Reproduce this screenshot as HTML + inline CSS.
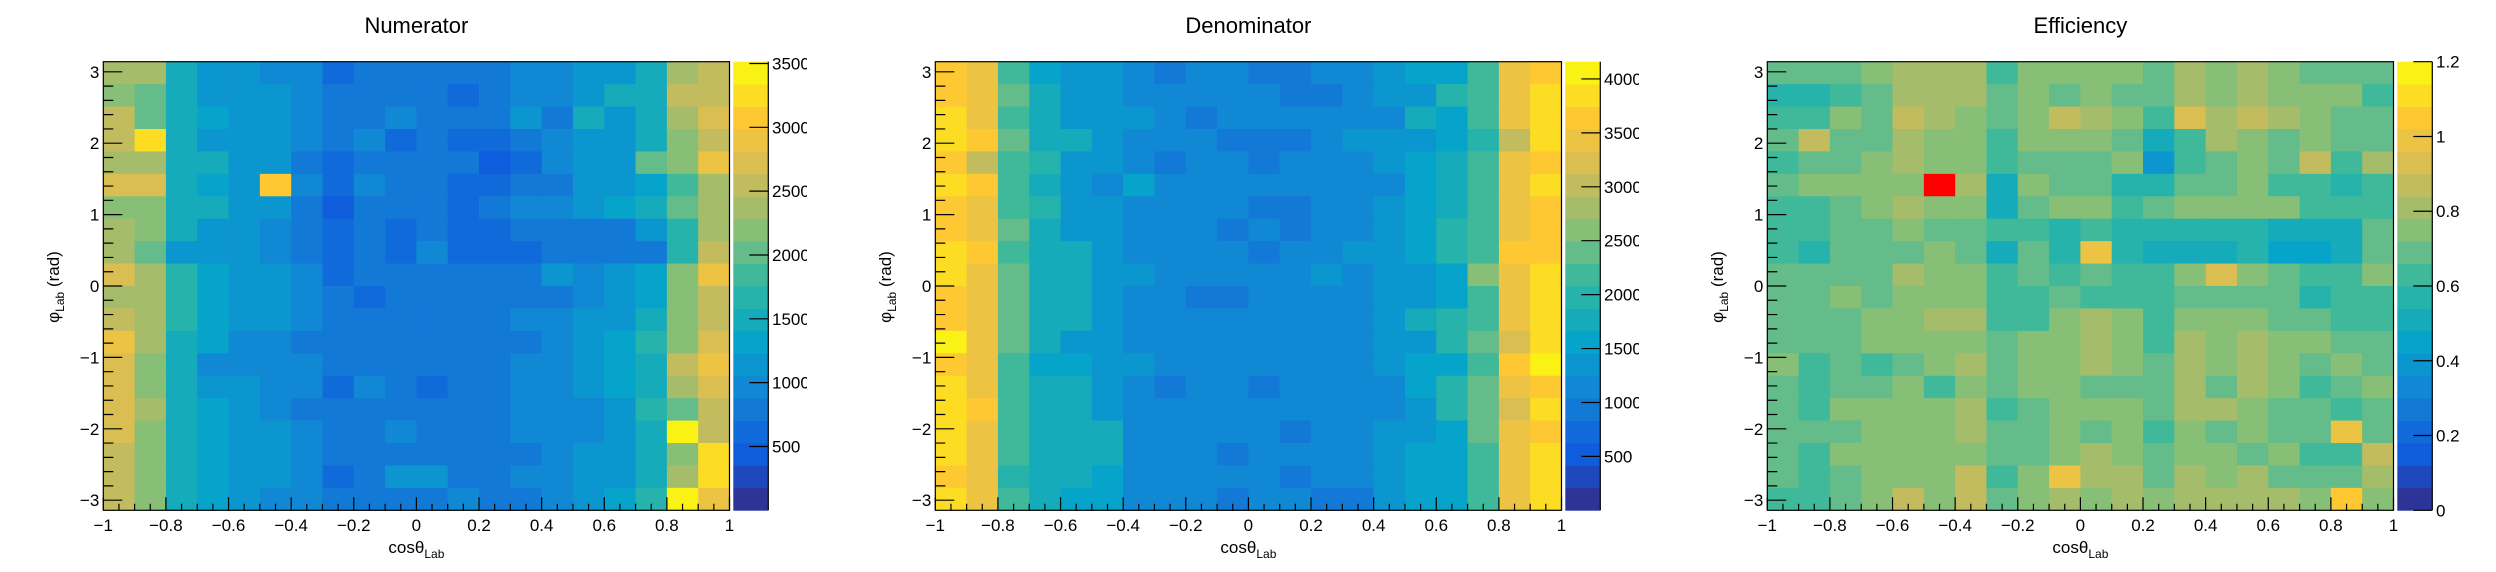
<!DOCTYPE html>
<html><head><meta charset="utf-8">
<style>
html,body{margin:0;padding:0;background:#fff;}
svg{display:block;}
text{font-family:"Liberation Sans",Arial,sans-serif;fill:#000;}
</style></head>
<body>
<svg id="chart" width="2496" height="572" viewBox="0 0 2496 572" xmlns="http://www.w3.org/2000/svg"></svg>
<script>
const xEdgesMin = -1, xEdgesMax = 1;
const xTickLabels = ["\u22121","\u22120.8","\u22120.6","\u22120.4","\u22120.2","0","0.2","0.4","0.6","0.8","1"];
const yTickValues = [-3,-2,-1,0,1,2,3];
const yTickLabels = ["\u22123","\u22122","\u22121","0","1","2","3"];
const panelTitles = ["Numerator","Denominator","Efficiency"];
const zMaxes = [3514, 4160, 1.2];
const numTicks = [500,1000,1500,2000,2500,3000,3500];
const numTickLabels = ["500","1000","1500","2000","2500","3000","3500"];
const denTicks = [500,1000,1500,2000,2500,3000,3500,4000];
const denTickLabels = ["500","1000","1500","2000","2500","3000","3500","4000"];
const effTicks = [0,0.2,0.4,0.6,0.8,1,1.2];
const effTickLabels = ["0","0.2","0.4","0.6","0.8","1","1.2"];

// rows from top (phi ~ +pi) to bottom (phi ~ -pi), 20 columns cos -1..1
const numerator = [
[2380,2380,1500,1140,1140,970,970,620,790,790,790,790,790,970,970,1140,1140,1500,2380,2550],
[2200,2020,1500,1140,1140,1140,970,790,790,790,790,620,790,970,970,1140,1500,1500,2550,2550],
[2550,2020,1500,1320,1140,1140,970,790,790,970,790,790,790,1140,790,1500,1140,1500,2380,2730],
[2550,3260,1500,1140,1140,1140,970,790,970,620,790,620,620,790,970,1140,1140,1500,2200,2550],
[2380,2380,1500,1500,1140,1140,790,620,790,790,790,790,440,620,970,1140,1140,2020,2200,2900],
[2730,2730,1500,1320,1140,3080,970,620,970,790,790,620,620,790,790,1140,1140,1320,1850,2380],
[2200,2200,1500,1500,1140,1140,790,440,790,790,790,620,790,970,970,1140,1320,1500,2020,2380],
[2380,2200,1500,1140,1140,970,790,620,790,620,790,620,620,790,790,790,790,1140,1670,2380],
[2380,2020,1140,1140,1140,970,790,620,790,620,970,620,620,620,790,790,790,790,1670,2550],
[2730,2380,1670,1320,1140,1140,970,620,790,790,790,790,790,790,1140,970,1140,1320,2200,2900],
[2380,2380,1670,1320,1140,1140,970,790,620,790,790,790,790,790,790,970,1140,1320,2200,2550],
[2550,2380,1670,1320,1140,1140,970,790,790,790,790,790,790,970,970,1140,1140,1500,2200,2550],
[2900,2380,1500,1320,970,970,790,790,790,790,790,790,790,790,970,1140,1320,1670,2200,2730],
[2730,2200,1500,970,970,970,970,790,790,790,790,790,790,970,970,1140,1320,1500,2550,2900],
[2730,2200,1500,1140,1140,970,970,620,970,790,620,790,790,970,970,1140,1320,1500,2380,2730],
[2730,2380,1500,1320,1140,970,790,790,790,790,790,790,790,970,970,970,1140,1670,2020,2550],
[2730,2200,1500,1320,1140,1140,970,790,790,970,790,790,790,970,970,970,1140,1500,3430,2550],
[2550,2200,1500,1320,1140,1140,970,790,790,790,790,790,790,790,970,1140,1140,1500,2200,3260],
[2550,2200,1500,1320,1140,1140,970,620,790,1140,1140,790,790,970,970,1140,1140,1500,2380,3260],
[2550,2200,1500,1320,1140,970,970,790,790,790,790,970,790,790,970,1140,1320,1670,3430,2900]
];
const denominator = [
[3640,3430,2180,1560,1350,1350,1140,940,1140,1140,940,940,1140,1140,1350,1560,1560,2180,3430,3640],
[3640,3430,2390,1770,1350,1350,1140,1140,1140,1140,1140,940,940,1140,1350,1350,1980,2180,3430,3850],
[3850,3430,2180,1770,1350,1350,1350,1140,940,1140,1140,1140,1140,1140,1140,1770,1560,2180,3430,3850],
[3850,3640,2390,1770,1770,1350,1140,1140,1140,940,940,940,1140,1350,1350,1350,1560,1980,3020,3850],
[3640,3020,2180,1980,1350,1350,1140,940,1140,1140,940,1140,1140,1140,1350,1560,1770,2180,3430,3640],
[3850,3640,2180,1770,1350,1140,1560,1140,1140,1140,1140,1140,1140,1140,1140,1560,1770,2180,3430,3850],
[3640,3430,2180,1980,1350,1350,1140,1140,1140,1140,940,940,1140,1140,1350,1560,1770,2180,3430,3640],
[3640,3430,2390,1770,1350,1350,1140,1140,1140,940,1140,940,1140,1140,1350,1560,1980,2180,3430,3640],
[3850,3640,2180,1770,1770,1350,1140,1140,1140,1140,940,1140,1140,1350,1350,1560,1980,2180,3640,3640],
[3850,3430,2390,1770,1770,1350,1350,1140,1140,1140,1140,1140,1350,1140,1350,1350,1560,2600,3430,3850],
[3640,3430,2390,1770,1770,1350,1140,1140,940,940,1140,1140,1140,1140,1350,1350,1560,2180,3430,3850],
[3640,3430,2390,1770,1770,1350,1140,1140,1140,1140,1140,1140,1140,1140,1350,1770,1980,2180,3430,3850],
[4060,3430,2390,1770,1350,1350,1140,1140,1140,1140,1140,1140,1140,1140,1350,1350,1980,2390,3220,3850],
[3640,3430,2180,1560,1560,1350,1350,1140,1140,1140,1140,1140,1140,1140,1350,1560,1560,2180,3640,4060],
[3850,3430,2180,1770,1770,1350,1140,940,1140,1140,940,1140,1140,1140,1140,1560,1980,2390,3430,3640],
[3850,3640,2180,1770,1770,1350,1140,1140,1140,1140,1140,1140,1140,1140,1140,1350,1980,2390,3220,3850],
[3850,3430,2180,1770,1770,1770,1140,1140,1140,1140,1140,940,1140,1140,1350,1350,1560,2390,3430,3640],
[3850,3430,2180,1770,1770,1770,1140,1140,1140,940,1140,1140,1140,1140,1350,1560,1560,2180,3430,3850],
[3640,3430,1980,1770,1770,1560,1140,1140,1140,1140,1140,940,1140,1140,1350,1560,1560,2180,3430,3850],
[3850,3430,2180,1770,1560,1560,1140,1140,1140,940,1140,1140,940,940,1350,1560,1560,2180,3430,3850]
];
const efficiency = [
[.69,.69,.69,.75,.81,.81,.81,.63,.75,.75,.75,.75,.69,.81,.75,.81,.75,.69,.69,.69],
[.57,.57,.63,.69,.81,.81,.81,.69,.75,.69,.75,.69,.69,.81,.75,.81,.75,.75,.75,.63],
[.63,.63,.75,.69,.87,.81,.75,.69,.75,.87,.81,.75,.63,.93,.81,.87,.81,.75,.69,.69],
[.69,.87,.69,.69,.81,.75,.75,.63,.75,.75,.75,.69,.51,.63,.81,.75,.69,.75,.69,.69],
[.63,.69,.69,.75,.81,.75,.75,.63,.69,.69,.69,.75,.39,.63,.69,.75,.69,.87,.63,.81],
[.69,.75,.75,.75,.75,1.3,.81,.51,.75,.69,.69,.57,.57,.69,.69,.75,.63,.63,.57,.63],
[.63,.63,.69,.75,.81,.75,.75,.51,.69,.75,.75,.63,.69,.75,.75,.75,.75,.63,.63,.63],
[.63,.63,.69,.69,.75,.69,.69,.63,.63,.57,.63,.57,.57,.57,.57,.57,.51,.51,.51,.69],
[.63,.57,.69,.69,.69,.75,.69,.51,.69,.57,.99,.57,.51,.51,.51,.57,.45,.45,.51,.69],
[.69,.69,.69,.69,.81,.75,.75,.63,.69,.63,.69,.63,.63,.75,.93,.75,.69,.63,.63,.75],
[.69,.69,.75,.69,.75,.75,.75,.63,.63,.69,.63,.63,.63,.69,.69,.69,.69,.57,.63,.63],
[.69,.69,.69,.75,.75,.81,.81,.63,.63,.75,.81,.75,.63,.75,.75,.75,.69,.69,.63,.63],
[.69,.69,.69,.75,.75,.75,.75,.69,.75,.75,.81,.75,.63,.81,.75,.81,.75,.75,.69,.69],
[.75,.63,.69,.63,.69,.75,.81,.69,.75,.75,.81,.75,.69,.81,.75,.81,.75,.69,.75,.69],
[.69,.63,.69,.69,.75,.63,.75,.69,.75,.75,.69,.69,.69,.81,.69,.81,.75,.63,.69,.75],
[.69,.63,.75,.75,.75,.75,.81,.63,.69,.75,.75,.75,.69,.81,.81,.75,.69,.69,.63,.69],
[.69,.69,.69,.75,.75,.75,.81,.69,.69,.75,.69,.75,.63,.75,.69,.75,.69,.69,.99,.69],
[.69,.63,.75,.75,.75,.75,.75,.69,.69,.75,.81,.75,.69,.75,.75,.69,.75,.63,.63,.87],
[.69,.63,.69,.75,.75,.75,.87,.63,.75,.99,.81,.81,.69,.81,.75,.81,.69,.69,.69,.81],
[.63,.63,.69,.75,.87,.75,.87,.69,.75,.81,.75,.81,.75,.81,.81,.81,.81,.75,1.05,.75]
];

const NS = "http://www.w3.org/2000/svg";
const svg = document.getElementById("chart");
const birdR=[0.2082,0.0592,0.0780,0.0232,0.1802,0.5301,0.8186,0.9956,0.9764];
const birdG=[0.1664,0.3599,0.5041,0.6419,0.7178,0.7492,0.7328,0.7862,0.9832];
const birdB=[0.5293,0.8684,0.8385,0.7914,0.6425,0.4662,0.3499,0.1968,0.0539];
function bird(t){
  const p=Math.max(0,Math.min(1,t))*8; const i=Math.min(7,Math.floor(p)); const f=p-i;
  const c=a=>Math.round((a[i]+(a[i+1]-a[i])*f)*255);
  return `rgb(${c(birdR)},${c(birdG)},${c(birdB)})`;
}
function bandColor(l){return bird((l+0.5)/20);}
function levelColor(v,zmax){
  if(v>zmax) return "#ff0000";
  let l=Math.floor(v/zmax*20); l=Math.max(0,Math.min(19,l));
  return bandColor(l);
}
function mk(tag,attrs,parent){const e=document.createElementNS(NS,tag);for(const k in attrs)e.setAttribute(k,attrs[k]);(parent||svg).appendChild(e);return e;}

const FX0=103.3, FX1=729.5, FY0=61.7, FY1=510.3;
const CB0=733.3, CB1=768.3;
const CX=(FX0+FX1)/2;

function drawPanel(p,data,zmax,cbTicks,cbLabels){
  const off=p*832;
  const g=mk("g",{transform:`translate(${off},0)`});
  
  
  const xs=v=>FX0+(v-xEdgesMin)/(xEdgesMax-xEdgesMin)*(FX1-FX0);
  const ys=v=>FY1-(v+Math.PI)/(2*Math.PI)*(FY1-FY0);
  const zs=v=>FY1-v/zmax*(FY1-FY0);
  const nR=data.length, nC=data[0].length;
  const cells=mk("g",{},g);
  
  
  for(let r=0;r<nR;r++)for(let c=0;c<nC;c++){
    const xa=xs(xEdgesMin+c*(xEdgesMax-xEdgesMin)/nC), xb=xs(xEdgesMin+(c+1)*(xEdgesMax-xEdgesMin)/nC);
    const yTop=ys(Math.PI-r*2*Math.PI/nR), yBot=ys(Math.PI-(r+1)*2*Math.PI/nR);
    const rc=mk("rect",{x:xa,y:yTop,width:xb-xa+0.4,height:yBot-yTop+0.4,fill:levelColor(data[r][c],zmax)},cells);
    
    
  }
  const fr=mk("rect",{x:FX0,y:FY0,width:FX1-FX0,height:FY1-FY0,fill:"none",stroke:"#000","stroke-width":1.2},g);
  
  
  let d="";
  for(let i=0;i<=40;i++){const v=-1+i*0.05;const x=xs(v);const len=(i%4===0)?13:6.5;d+=`M${x},${FY1}v${-len}`;}
  for(let k=-15;k<=15;k++){const v=k*0.2;if(v<-Math.PI||v>Math.PI)continue;const y=ys(v);const len=(k%5===0)?19:10;d+=`M${FX0},${y}h${len}`;}
  const tk=mk("path",{d:d,stroke:"#000","stroke-width":1.2,fill:"none"},g);
  
  
  xTickLabels.forEach((t,i)=>{
    const v=-1+i*0.2;
    const tx=mk("text",{x:xs(v),y:531,"font-size":17,"text-anchor":"middle"},g);
    tx.textContent=t;
    
    
  });
  yTickValues.forEach((v,i)=>{
    const tx=mk("text",{x:FX0-4,y:ys(v)+6,"font-size":17,"text-anchor":"end"},g);
    tx.textContent=yTickLabels[i];
    
    
  });
  const xt=mk("text",{x:CX,y:553,"font-size":17,"text-anchor":"middle"},g);
  xt.innerHTML='cos\u03b8<tspan font-size="12" dy="5">Lab</tspan>';
  
  
  const yt=mk("text",{transform:"translate(59,287) rotate(-90)","font-size":17,"text-anchor":"middle"},g);
  yt.innerHTML='\u03c6<tspan font-size="12" dy="5">Lab</tspan><tspan dy="-5"> (rad)</tspan>';
  
  
  const tt=mk("text",{x:CX,y:33,"font-size":22,"text-anchor":"middle"},g);
  tt.textContent=panelTitles[p];
  
  
  const cb=mk("g",{},g);
  
  
  for(let l=0;l<20;l++){
    const ya=zs((l+1)*zmax/20), yb=zs(l*zmax/20);
    const br=mk("rect",{x:CB0,y:ya,width:CB1-CB0,height:yb-ya+0.4,fill:bandColor(l)},cb);
    
    
  }
  let cd=`M${CB1},${FY0}V${FY1}`;
  cbTicks.forEach(v=>{cd+=`M${CB1},${zs(v)}h-19`;});
  const cbl=mk("path",{d:cd,stroke:"#000","stroke-width":1.2,fill:"none"},cb);
  
  
  const clipId="cbclip"+p;
  const cp=mk("clipPath",{id:clipId},g);
  mk("rect",{x:770,y:40,width:37,height:500},cp);
  cbTicks.forEach((v,i)=>{
    const tx=mk("text",{x:772,y:zs(v)+6,"font-size":17,"clip-path":`url(#${clipId})`},cb);
    tx.textContent=cbLabels[i];
    
    
  });
}
drawPanel(0,numerator,zMaxes[0],numTicks,numTickLabels);
drawPanel(1,denominator,zMaxes[1],denTicks,denTickLabels);
drawPanel(2,efficiency,zMaxes[2],effTicks,effTickLabels);
</script>
</body></html>
